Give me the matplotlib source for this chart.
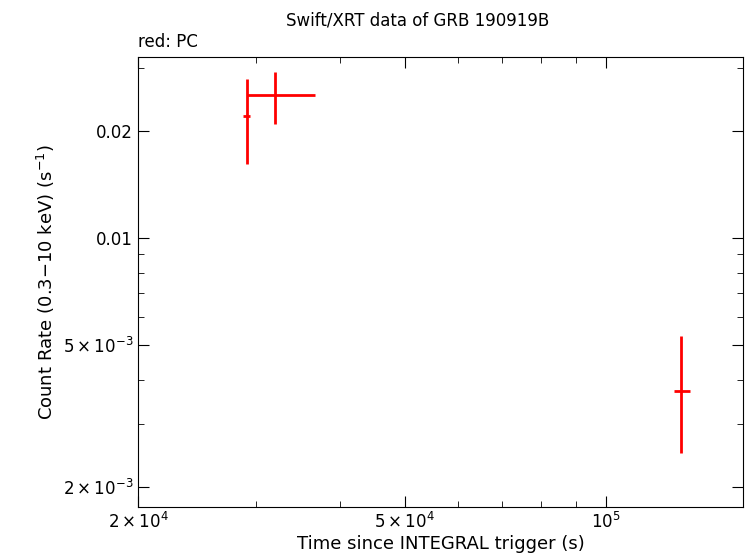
import matplotlib
matplotlib.use("Agg")
import matplotlib.pyplot as plt
from matplotlib.ticker import FixedLocator, FixedFormatter, LogLocator, NullFormatter

t = [2.906e4, 3.20e4, 1.294e5]
t_lo = [2.87e4, 2.906e4, 1.264e5]
t_hi = [2.94e4, 3.67e4, 1.335e5]
rate = [0.0220, 0.0252, 0.00372]
rate_lo = [0.0161, 0.0209, 0.00249]
rate_hi = [0.0279, 0.0293, 0.00530]

fig = plt.figure(figsize=(7.46, 5.58), dpi=100)
ax = fig.add_axes([0.185, 0.0914, 0.811, 0.807])
xerr = [[a - b for a, b in zip(t, t_lo)], [b - a for a, b in zip(t, t_hi)]]
yerr = [[a - b for a, b in zip(rate, rate_lo)], [b - a for a, b in zip(rate, rate_hi)]]
ax.errorbar(t, rate, xerr=xerr, yerr=yerr, fmt='none', ecolor='red', elinewidth=2, capsize=0)
ax.set_xscale('log'); ax.set_yscale('log')
ax.set_xlim(2e4, 1.6e5); ax.set_ylim(1.756e-3, 0.0323)
ax.xaxis.set_major_locator(FixedLocator([2e4, 5e4, 1e5]))
ax.xaxis.set_major_formatter(FixedFormatter([r'$2\times10^4$', r'$5\times10^4$', r'$10^5$']))
ax.xaxis.set_minor_locator(LogLocator(subs=range(1, 10), numticks=20))
ax.xaxis.set_minor_formatter(NullFormatter())
ax.yaxis.set_major_locator(FixedLocator([2e-3, 5e-3, 0.01, 0.02]))
ax.yaxis.set_major_formatter(FixedFormatter([r'$2\times10^{-3}$', r'$5\times10^{-3}$', '0.01', '0.02']))
ax.yaxis.set_minor_locator(LogLocator(subs=range(1, 10), numticks=20))
ax.yaxis.set_minor_formatter(NullFormatter())
ax.tick_params(which='both', direction='in', top=True, right=True, labelsize=12)
ax.tick_params(which='major', length=8)
ax.tick_params(which='minor', length=4)
ax.set_xlabel('Time since INTEGRAL trigger (s)', fontsize=13, labelpad=2)
ax.set_ylabel(r'Count Rate (0.3$-$10 keV) (s$^{-1}$)', fontsize=13)
fig.text(0.56, 0.955, 'Swift/XRT data of GRB 190919B', ha='center', fontsize=12)
fig.text(0.185, 0.915, 'red: PC', ha='left', fontsize=12)
fig.savefig('out.png', dpi=100)
